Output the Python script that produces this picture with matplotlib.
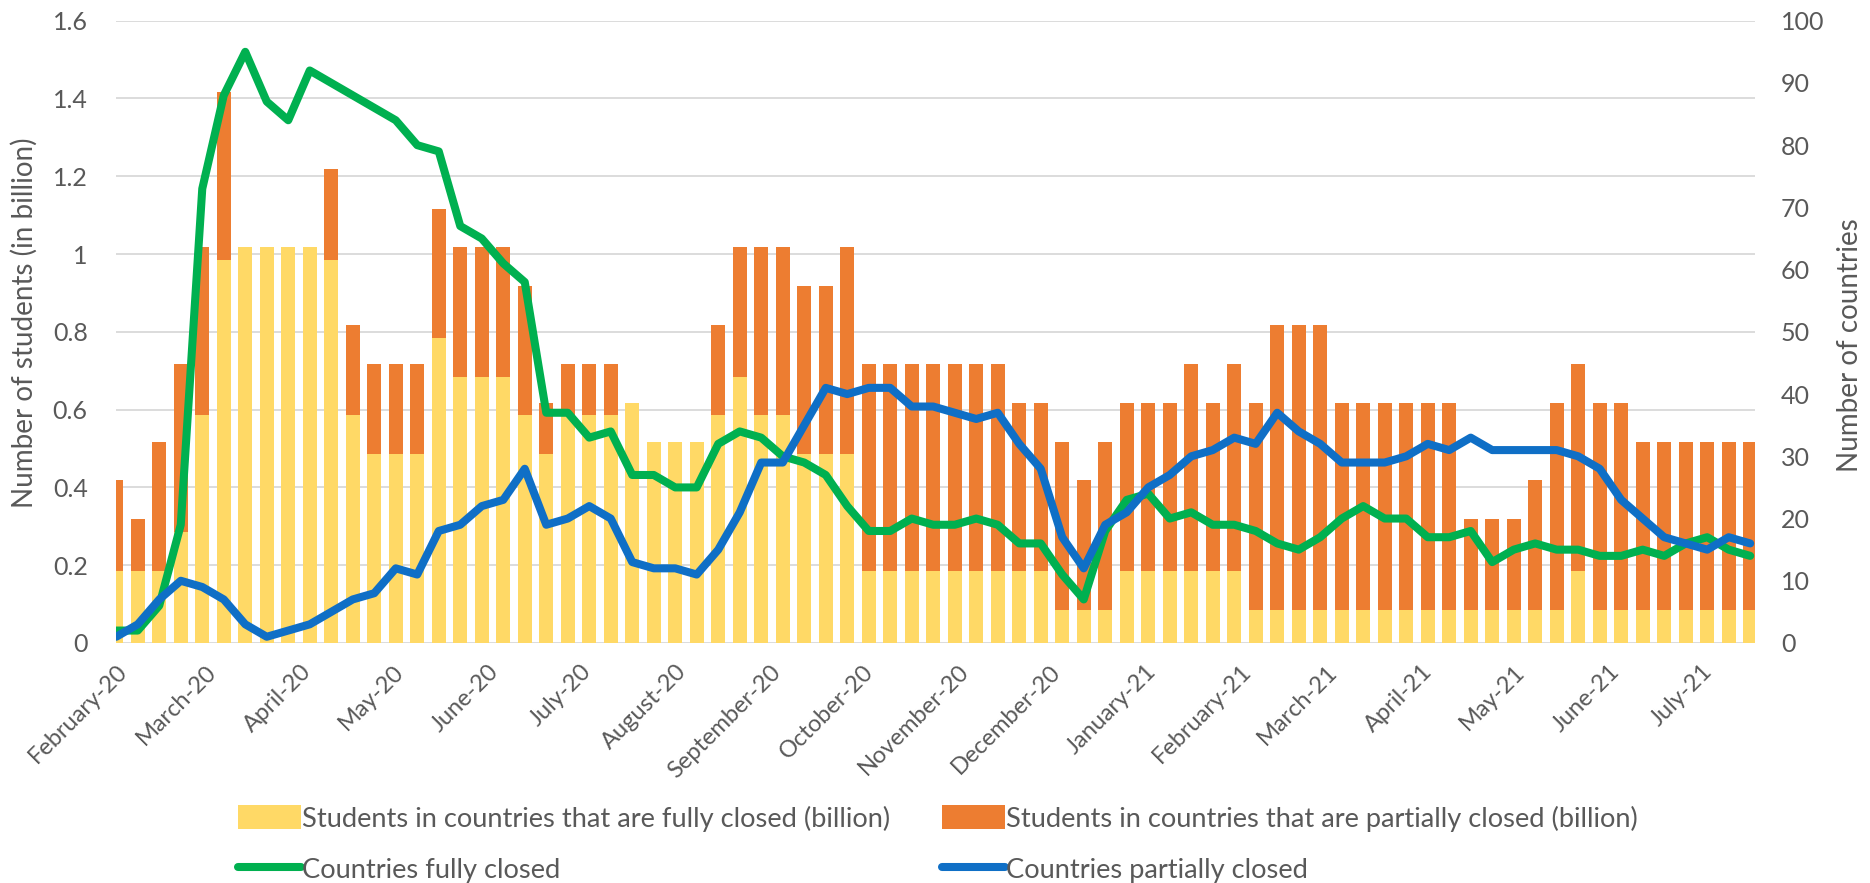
import matplotlib
matplotlib.use('Agg')
import matplotlib.pyplot as plt
import matplotlib.dates as mdates
from matplotlib.patches import Patch
from matplotlib.lines import Line2D
import pandas as pd

plt.rcParams['font.family'] = ['Lato', 'DejaVu Sans']

# ---------------- data ----------------
start_date = '2020-02-16'

month_labels = ['February-20', 'March-20', 'April-20', 'May-20', 'June-20', 'July-20',
                'August-20', 'September-20', 'October-20', 'November-20', 'December-20',
                'January-21', 'February-21', 'March-21', 'April-21', 'May-21', 'June-21',
                'July-21']

# Students in countries fully closed (billion), weekly
students_full = [0.185, 0.185, 0.185, 0.285, 0.585, 0.985, 1.017, 1.017, 1.017, 1.017,
                 0.985, 0.585, 0.485, 0.485, 0.485, 0.785, 0.685, 0.685, 0.685, 0.585,
                 0.485, 0.585, 0.585, 0.585, 0.618, 0.518, 0.518, 0.518, 0.585, 0.685,
                 0.585, 0.585, 0.485, 0.485, 0.485, 0.185, 0.185, 0.185, 0.185, 0.185,
                 0.185, 0.185, 0.185, 0.185, 0.085, 0.085, 0.085, 0.185, 0.185, 0.185,
                 0.185, 0.185, 0.185, 0.085, 0.085, 0.085, 0.085, 0.085, 0.085, 0.085,
                 0.085, 0.085, 0.085, 0.085, 0.085, 0.085, 0.085, 0.085, 0.185, 0.085,
                 0.085, 0.085, 0.085, 0.085, 0.085, 0.085, 0.085]

# Students in countries partially closed (billion), weekly
students_partial = [0.233, 0.133, 0.333, 0.433, 0.432, 0.432, 0.0, 0.0, 0.0, 0.0,
                    0.233, 0.233, 0.233, 0.233, 0.233, 0.332, 0.332, 0.332, 0.332, 0.332,
                    0.133, 0.133, 0.133, 0.133, 0.0, 0.0, 0.0, 0.0, 0.233, 0.332,
                    0.432, 0.432, 0.432, 0.432, 0.532, 0.533, 0.533, 0.533, 0.533, 0.533,
                    0.533, 0.533, 0.433, 0.433, 0.433, 0.333, 0.433, 0.433, 0.433, 0.433,
                    0.533, 0.433, 0.533, 0.533, 0.733, 0.733, 0.733, 0.533, 0.533, 0.533,
                    0.533, 0.533, 0.533, 0.233, 0.233, 0.233, 0.333, 0.533, 0.533, 0.533,
                    0.533, 0.433, 0.433, 0.433, 0.433, 0.433, 0.433]

countries_full = [2, 2, 6, 19, 73, 88, 95, 87, 84, 92,
                  90, 88, 86, 84, 80, 79, 67, 65, 61, 58,
                  37, 37, 33, 34, 27, 27, 25, 25, 32, 34,
                  33, 30, 29, 27, 22, 18, 18, 20, 19, 19,
                  20, 19, 16, 16, 11, 7, 18, 23, 24, 20,
                  21, 19, 19, 18, 16, 15, 17, 20, 22, 20,
                  20, 17, 17, 18, 13, 15, 16, 15, 15, 14,
                  14, 15, 14, 16, 17, 15, 14]

countries_partial = [1, 3, 7, 10, 9, 7, 3, 1, 2, 3,
                     5, 7, 8, 12, 11, 18, 19, 22, 23, 28,
                     19, 20, 22, 20, 13, 12, 12, 11, 15, 21,
                     29, 29, 35, 41, 40, 41, 41, 38, 38, 37,
                     36, 37, 32, 28, 17, 12, 19, 21, 25, 27,
                     30, 31, 33, 32, 37, 34, 32, 29, 29, 29,
                     30, 32, 31, 33, 31, 31, 31, 31, 30, 28,
                     23, 20, 17, 16, 15, 17, 16]

left_ticks = [0, 0.2, 0.4, 0.6, 0.8, 1.0, 1.2, 1.4, 1.6]
left_tick_labels = ['0', '0.2', '0.4', '0.6', '0.8', '1', '1.2', '1.4', '1.6']
right_ticks = [0, 10, 20, 30, 40, 50, 60, 70, 80, 90, 100]

# ---------------- style ----------------
YELLOW = '#FFD966'
ORANGE = '#ED7D31'
GREEN = '#00B050'
BLUE = '#0F6FC6'
TXT = '#595959'
GRID = '#D9D9D9'
LW = 5.8

W, H = 1870, 883
fig = plt.figure(figsize=(W / 100, H / 100), dpi=100)
ax = fig.add_axes([115.5 / W, 1 - 643 / H, (1754.5 - 115.5) / W, (643 - 20.7) / H])
ax2 = ax.twinx()

weeks = pd.date_range(start_date, periods=len(students_full), freq='7D')
x = mdates.date2num(weeks.to_pydatetime())
month_ticks = pd.date_range(start_date, periods=len(month_labels), freq=pd.DateOffset(months=1))
xt = mdates.date2num(month_ticks.to_pydatetime())

bw = 7 * 0.665
ax.bar(x, students_full, width=bw, color=YELLOW, linewidth=0, zorder=2)
ax.bar(x, students_partial, width=bw, bottom=students_full, color=ORANGE, linewidth=0, zorder=2)

ax2.plot(x, countries_full, color=GREEN, lw=LW, solid_joinstyle='round', solid_capstyle='round')
ax2.plot(x, countries_partial, color=BLUE, lw=LW, solid_joinstyle='round', solid_capstyle='round')

ax.set_xlim(x[0] - 0.25, x[-1] + 1.4)
ax.set_ylim(0, 1.6)
ax2.set_ylim(0, 100)

ax.set_yticks(left_ticks)
ax.set_yticklabels(left_tick_labels)
ax2.set_yticks(right_ticks)

ax.set_axisbelow(True)
ax.grid(axis='y', color=GRID, lw=1.3, zorder=0)
ax.grid(axis='x', visible=False)

for a in (ax, ax2):
    for s in a.spines.values():
        s.set_visible(False)

ax.tick_params(axis='y', length=0, pad=20, labelsize=18, labelcolor=TXT)
ax2.tick_params(axis='y', length=0, pad=19, labelsize=18, labelcolor=TXT)

ax.set_xticks(xt)
ax.set_xticklabels(month_labels, rotation=45, ha='right', va='top', rotation_mode='anchor')
ax.tick_params(axis='x', length=0, pad=13, labelsize=17, labelcolor=TXT)

fig.text(24 / W, 1 - 323 / H, 'Number of students (in billion)', rotation=90,
         ha='center', va='center', fontsize=20, color=TXT)
fig.text(1850 / W, 1 - 345 / H, 'Number of countries', rotation=90,
         ha='center', va='center', fontsize=20, color=TXT)

# legend (two columns placed separately)
fs = 19.6
h1 = [Patch(facecolor=YELLOW, edgecolor='none'),
      Line2D([], [], color=GREEN, lw=LW, solid_capstyle='round')]
l1 = ['Students in countries that are fully closed (billion)', 'Countries fully closed']
h2 = [Patch(facecolor=ORANGE, edgecolor='none'),
      Line2D([], [], color=BLUE, lw=LW, solid_capstyle='round')]
l2 = ['Students in countries that are partially closed (billion)', 'Countries partially closed']
common = dict(loc='upper left', frameon=False, borderpad=0, borderaxespad=0,
              handlelength=2.3, handleheight=1.0, handletextpad=0.05,
              labelspacing=0.9, fontsize=fs, labelcolor=TXT)
leg1 = fig.legend(h1, l1, bbox_to_anchor=(238 / W, 1 - 805 / H), **common)
leg2 = fig.legend(h2, l2, bbox_to_anchor=(942 / W, 1 - 805 / H), **common)

fig.savefig('out.png', dpi=100)
